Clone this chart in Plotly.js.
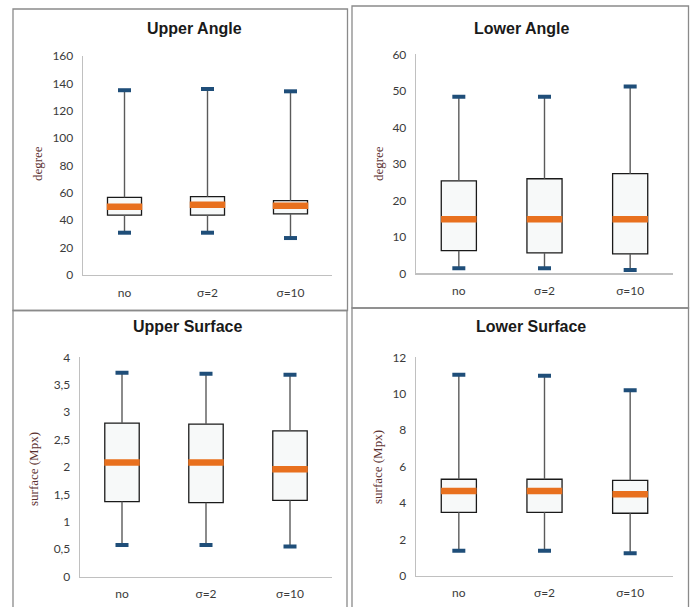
<!DOCTYPE html>
<html>
<head>
<meta charset="utf-8">
<script src="https://cdn.plot.ly/plotly-3.0.1.min.js"></script>
<style>
  html, body { margin: 0; padding: 0; background: #ffffff; }
  #chart { width: 694px; height: 607px; }
</style>
</head>
<body>
<div id="chart"></div>
<script>
// Box-plot summaries (min, Q1, median, Q3, max) per smoothing setting
const categories = ['no', 'σ=2', 'σ=10'];

const upperAngleMin = [30.9, 30.9, 27.0];
const upperAngleQ1  = [43.8, 43.8, 44.6];
const upperAngleMed = [49.9, 51.4, 50.6];
const upperAngleQ3  = [56.7, 57.2, 54.3];
const upperAngleMax = [135.0, 135.9, 134.2];

const lowerAngleMin = [1.4, 1.4, 0.9];
const lowerAngleQ1  = [6.2, 5.6, 5.3];
const lowerAngleMed = [14.8, 14.8, 14.8];
const lowerAngleQ3  = [25.3, 25.9, 27.3];
const lowerAngleMax = [48.4, 48.4, 51.2];

const upperSurfaceMin = [0.58, 0.58, 0.55];
const upperSurfaceQ1  = [1.37, 1.35, 1.39];
const upperSurfaceMed = [2.08, 2.08, 1.96];
const upperSurfaceQ3  = [2.80, 2.78, 2.66];
const upperSurfaceMax = [3.72, 3.70, 3.68];

const lowerSurfaceMin = [1.37, 1.37, 1.23];
const lowerSurfaceQ1  = [3.48, 3.48, 3.43];
const lowerSurfaceMed = [4.65, 4.65, 4.47];
const lowerSurfaceQ3  = [5.30, 5.30, 5.24];
const lowerSurfaceMax = [11.04, 10.99, 10.19];

const W = 694, H = 607;
const px = x => x / W;
const py = y => 1 - y / H;

// 'line-ew' markers span 1.4 × size, so sizes are given as pixel spans / 1.4
const LINE_EW = 1.4;

const COLORS = {
  whisker: '#5a5a5a',
  boxFill: '#f7f9f9',
  boxLine: '#1a1a1a',
  cap: '#1f4e79',
  median: '#e8701e',
  axis: '#c0c0c0',
  tick: '#3b3b3b',
  frame: '#8a8a8a',
  ytitle: '#5b3030'
};

const panels = [
  { title: 'Upper Angle', ytitle: 'degree', ax: '', min: upperAngleMin, q1: upperAngleQ1, med: upperAngleMed, q3: upperAngleQ3, max: upperAngleMax,
    range: [0, 160], dtick: 20, dom: { x: [83, 332], y: [275, 56] }, titlePos: [194, 29], yTitlePos: [37, 164],
    frame: [13, 9, 347.5, 310.5] },
  { title: 'Lower Angle', ytitle: 'degree', ax: '2', min: lowerAngleMin, q1: lowerAngleQ1, med: lowerAngleMed, q3: lowerAngleQ3, max: lowerAngleMax,
    range: [0, 60], dtick: 10, dom: { x: [416, 673], y: [273.3, 54.3] }, titlePos: [522, 29], yTitlePos: [378, 164],
    frame: [352, 6, 688.5, 308] },
  { title: 'Upper Surface', ytitle: 'surface (Mpx)', ax: '3', min: upperSurfaceMin, q1: upperSurfaceQ1, med: upperSurfaceMed, q3: upperSurfaceQ3, max: upperSurfaceMax,
    range: [0, 4], dtick: 0.5, dom: { x: [80, 332], y: [576.7, 357.3] }, titlePos: [188, 326], yTitlePos: [33, 469],
    frame: [13, 310.5, 347, 640] },
  { title: 'Lower Surface', ytitle: 'surface (Mpx)', ax: '4', min: lowerSurfaceMin, q1: lowerSurfaceQ1, med: lowerSurfaceMed, q3: lowerSurfaceQ3, max: lowerSurfaceMax,
    range: [0, 12], dtick: 2, dom: { x: [416, 673], y: [575.7, 357.3] }, titlePos: [531, 326], yTitlePos: [378, 467],
    frame: [352, 308, 688.5, 640] }
];

const data = [];
const layout = {
  width: W, height: H,
  margin: { l: 0, r: 0, t: 0, b: 0 },
  paper_bgcolor: '#ffffff',
  plot_bgcolor: 'rgba(0,0,0,0)',
  showlegend: false,
  separators: ',.',
  annotations: [],
  shapes: []
};

panels.forEach(p => {
  const xa = 'x' + p.ax, ya = 'y' + p.ax;

  // whiskers: Q3 -> max and min -> Q1
  const wx = [], wy = [];
  categories.forEach((c, i) => {
    wx.push(c, c, null, c, c, null);
    wy.push(p.q3[i], p.max[i], null, p.min[i], p.q1[i], null);
  });
  data.push({ type: 'scatter', mode: 'lines', x: wx, y: wy, xaxis: xa, yaxis: ya,
    line: { color: COLORS.whisker, width: 1.4 }, hoverinfo: 'skip' });

  // interquartile boxes
  data.push({ type: 'bar', x: categories, base: p.q1, y: p.q3.map((v, i) => v - p.q1[i]),
    width: 0.41, xaxis: xa, yaxis: ya,
    marker: { color: COLORS.boxFill, line: { color: COLORS.boxLine, width: 1.3 } } });

  // medians
  data.push({ type: 'scatter', mode: 'markers', x: categories, y: p.med, xaxis: xa, yaxis: ya,
    marker: { symbol: 'line-ew', size: 35.5 / LINE_EW, line: { color: COLORS.median, width: 6.5 } } });

  // whisker caps
  data.push({ type: 'scatter', mode: 'markers', x: categories.concat(categories), y: p.max.concat(p.min),
    xaxis: xa, yaxis: ya,
    marker: { symbol: 'line-ew', size: 13 / LINE_EW, line: { color: COLORS.cap, width: 4 } } });

  layout['xaxis' + p.ax] = {
    domain: [px(p.dom.x[0]), px(p.dom.x[1])],
    anchor: ya,
    type: 'category',
    categoryarray: categories,
    range: [-0.5, 2.5],
    showline: true, linecolor: COLORS.axis, linewidth: 1.3,
    showgrid: false, zeroline: false, ticks: '',
    tickfont: { family: 'Lato, sans-serif', size: 12, color: COLORS.tick },
    ticklabelstandoff: 6,
    fixedrange: true
  };
  layout['yaxis' + p.ax] = {
    domain: [py(p.dom.y[0]), py(p.dom.y[1])],
    anchor: xa,
    range: p.range, dtick: p.dtick, tick0: 0,
    showline: true, linecolor: COLORS.axis, linewidth: 1.3,
    showgrid: false, zeroline: false, ticks: '',
    tickfont: { family: 'Lato, sans-serif', size: 12, color: COLORS.tick },
    ticklabelstandoff: 6,
    fixedrange: true
  };

  layout.annotations.push({
    text: '<b>' + p.title + '</b>', xref: 'paper', yref: 'paper',
    x: px(p.titlePos[0]), y: py(p.titlePos[1]), xanchor: 'center', yanchor: 'middle',
    showarrow: false, font: { family: 'Liberation Sans, Arial, sans-serif', size: 16, color: '#1a1a1a' }
  });
  layout.annotations.push({
    text: p.ytitle, xref: 'paper', yref: 'paper', textangle: -90,
    x: px(p.yTitlePos[0]), y: py(p.yTitlePos[1]), xanchor: 'center', yanchor: 'middle',
    showarrow: false, font: { family: 'Liberation Serif, Times New Roman, serif', size: 13, color: COLORS.ytitle }
  });

  const f = p.frame;
  layout.shapes.push({ type: 'rect', xref: 'paper', yref: 'paper',
    x0: px(f[0]), x1: px(f[2]), y0: py(f[1]), y1: py(f[3]),
    line: { color: COLORS.frame, width: 1.3 }, fillcolor: 'rgba(0,0,0,0)', layer: 'below' });
});

Plotly.newPlot('chart', data, layout, { staticPlot: true, displayModeBar: false });
</script>
</body>
</html>
